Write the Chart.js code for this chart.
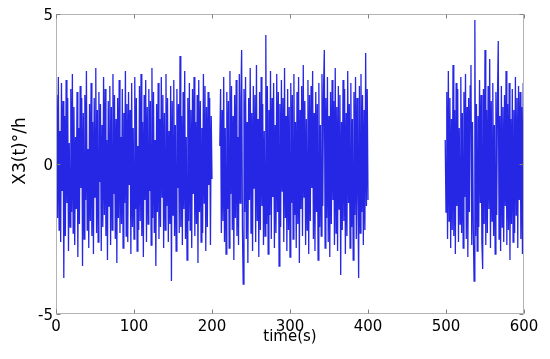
<!DOCTYPE html>
<html><head><meta charset="utf-8">
<script src="https://cdn.jsdelivr.net/npm/chart.js@4"></script>
<style>html,body{margin:0;padding:0;background:#fff}#wrap{width:550px;height:359px;position:relative}</style>
</head><body><div id="wrap"><canvas id="c"></canvas></div>
<script>
// ---- data (1 s sampling) ----
const segmentStarts = [0, 210, 499];
const sampleStep = 1;
const seg1 = [
 0.4, 2.3,-1.8, 2.9,-2.2, 1.1,-2.6, 2.7,-0.9, 2.1,
-3.8, 1.6,-2.4, 2.8,-1.3, 2.2,-2.9, 0.7,-2.1, 2.5,
-1.6, 3.0,-2.3, 1.9,-2.7, 0.9,-1.5, 2.4,-3.1, 1.2,
-2.0, 2.6,-0.8, 2.2,-3.4, 1.7,-2.5, 2.3,-1.2, 3.1,
-2.2, 0.5,-2.8, 2.0,-1.9, 2.7,-2.4, 1.4,-3.0, 2.2,
-1.1, 3.2,-2.3, 1.8,-2.6, 2.4,-0.6, 2.0,-2.9, 1.3,
-2.1, 2.9,-1.7, 2.5,-2.4, 0.8,-3.2, 2.1,-1.4, 2.6,
-2.7, 1.9,-2.2, 3.0,-1.0, 2.3,-2.5, 1.5,-3.3, 2.2,
-1.8, 2.8,-2.3, 0.9,-2.0, 2.5,-2.8, 1.7,-1.3, 3.1,
-2.4, 2.0,-2.6, 2.4,-0.7, 1.8,-3.0, 2.7,-2.1, 1.2,
-2.5, 2.9,-1.5, 2.2,-2.9, 0.6,-2.2, 2.6,-1.9, 3.0,
-2.4, 1.4,-3.1, 2.3,-1.2, 2.8,-2.6, 1.9,-2.0, 2.5,
-0.9, 2.1,-2.7, 3.2,-1.8, 2.4,-2.3, 0.8,-3.4, 2.0,
-1.6, 2.7,-2.5, 1.5,-2.1, 2.9,-1.1, 2.3,-2.8, 1.7,
-2.2, 3.0,-1.4, 2.2,-2.6, 1.1,-2.0, 2.6,-3.9, 2.1,
-1.7, 2.8,-2.4, 1.3,-2.9, 2.5,-0.8, 2.0,-2.3, 3.6,
-2.1, 1.6,-2.7, 2.4,-1.5, 3.1,-2.5, 0.9,-3.2, 2.2,
-1.9, 2.7,-2.2, 1.8,-2.8, 2.5,-1.0, 2.9,-2.4, 1.4,
-2.0, 2.3,-3.3, 2.8,-1.6, 2.1,-2.6, 1.2,-2.3, 3.0,
-1.3, 2.6,-2.9, 1.9,-2.1, 2.4,-0.7, 2.2,-2.7, 1.6,
-0.5];
const seg2 = [
 0.6, 2.5,-2.3, 1.8,-1.9, 2.9,-2.6, 1.2,-3.0, 2.4,
-1.5, 2.1,-2.8, 3.1,-1.0, 2.6,-2.2, 1.6,-3.2, 2.3,
-1.8, 2.8,-2.4, 0.9,-2.7, 3.0,-1.3, 2.2, 3.8,-2.1,
-4.0, 2.5,-1.6, 2.9,-2.5, 1.4,-3.3, 2.2,-1.2, 3.2,
-2.3, 1.7,-2.9, 2.6,-0.8, 2.3,-2.6, 3.3,-1.9, 1.5,
-3.1, 2.4,-2.2, 2.9,-1.4, 2.0,-2.7, 1.1,-2.4, 4.3,
-2.0, 2.6,-3.0, 1.8,-1.7, 3.1,-2.5, 2.2,-1.1, 2.7,
-2.8, 1.3,-2.3, 3.0,-1.6, 2.4,-3.4, 2.0,-2.1, 2.8,
-0.9, 2.2,-2.6, 3.2,-1.8, 1.6,-2.9, 2.5,-2.2, 1.9,
-3.1, 2.7,-1.3, 2.3,-2.5, 3.0,-1.7, 1.4,-2.8, 2.4,
-2.0, 2.9,-3.3, 1.8,-1.5, 2.6,-2.4, 3.3,-1.1, 2.1,
-2.7, 1.5,-2.2, 2.8,-3.0, 2.3,-1.9, 2.6,-0.8, 3.1,
-2.5, 1.7,-2.9, 2.4,-1.6, 2.0,-3.2, 2.7,-2.1, 1.3,
-2.4, 3.0,-1.4, 2.5, 3.8,-2.8, 2.2,-1.8, 2.9,-2.6,
 1.6,-3.1, 2.4,-2.0, 2.8,-1.2, 2.1,-2.7, 3.2,-2.3,
 1.9,-2.9, 2.6,-1.5, 2.3,-3.7, 1.4,-2.2, 2.8,-1.9,
 2.5,-3.0, 1.7,-2.4, 3.1,-1.3, 2.0,-2.8, 2.7,-2.1,
 1.5,-3.2, 2.4,-1.7, 2.9,-2.5, 2.2,-1.0,-3.8, 2.6,
-2.3, 3.0,-1.6, 2.3,-2.7, 1.8,-2.2, 3.7,-1.4, 2.5,
-1.2];
const seg3 = [
 0.8,-1.6, 2.4,-2.5, 3.1,-1.9, 2.2,-2.8, 1.5,-2.2,
 3.3,-2.4, 1.8,-3.0, 2.7,-1.4, 2.5,-2.6, 1.2,-2.0,
 2.9,-2.3, 1.7,-2.8, 2.4,-1.1, 3.0,-2.5, 1.9,-3.1,
 2.2,-1.6, 2.6, 3.3,-2.7, 1.4,-2.2,-3.9, 4.8,-2.4,
 2.0,-2.9, 1.6,-2.1, 2.8,-1.3, 2.3,-2.6,-3.5, 2.5,
-2.0, 3.8,-2.7, 1.8,-2.3, 2.6,-1.5, 3.5,-2.8, 2.1,
-1.9, 2.7,-2.4, 1.3,-3.0, 2.4,-1.7, 2.2, 4.1,-2.5,
 1.6,-2.9, 2.6,-2.1, 1.9,-2.6, 2.3,-1.4, 3.1,-2.7,
 2.0,-2.2, 2.7,-3.2, 1.5,-2.0, 2.5,-2.6, 1.8,-2.3,
 2.9,-1.7, 2.2,-2.8, 2.6,-1.2, 2.4,-2.5, 1.9,-3.0,
 2.7,-2.2];
const xTicks = [0, 100, 200, 300, 400, 500, 600];
const yTicks = [-5, 0, 5];
const xTitle = 'time(s)';
const yTitle = 'X3(t)°/h';

// ---- build points (gaps between segments) ----
const segments = [seg1, seg2, seg3];
const points = [];
segments.forEach((s, k) => {
  if (k > 0) points.push({x: segmentStarts[k] - 1, y: null});
  s.forEach((v, i) => points.push({x: segmentStarts[k] + i * sampleStep, y: v}));
});

const FONT = '"DejaVu Sans", Verdana, sans-serif';

const framePlugin = {
  id: 'frame',
  afterDatasetsDraw(chart) {
    const {ctx, chartArea: a, scales: {x, y}} = chart;
    ctx.save();
    ctx.strokeStyle = '#b4b4b4';
    ctx.lineWidth = 1;
    const L = Math.round(a.left) + 0.5, R = Math.round(a.right) - 0.5,
          T = Math.round(a.top) + 0.5, B = Math.round(a.bottom) - 0.5;
    ctx.strokeRect(L, T, R - L, B - T);
    ctx.strokeStyle = '#808080';
    ctx.beginPath();
    xTicks.forEach(v => {
      const px = Math.round(x.getPixelForValue(v)) + 0.5;
      ctx.moveTo(px, B); ctx.lineTo(px, B - 4);
      ctx.moveTo(px, T); ctx.lineTo(px, T + 4);
    });
    yTicks.forEach(v => {
      const py = Math.round(y.getPixelForValue(v)) + 0.5;
      ctx.moveTo(L, py); ctx.lineTo(L + 4, py);
      ctx.moveTo(R, py); ctx.lineTo(R - 4, py);
    });
    ctx.stroke();
    // tick labels (positions from the library's scales)
    ctx.fillStyle = '#000';
    ctx.font = '15px ' + FONT;
    ctx.textBaseline = 'alphabetic';
    ctx.textAlign = 'center';
    xTicks.forEach(v => ctx.fillText(String(v), x.getPixelForValue(v), a.bottom + 17));
    ctx.textAlign = 'right';
    yTicks.forEach(v => ctx.fillText(String(v), a.left - 3, y.getPixelForValue(v) + 6));
    // axis titles
    ctx.textAlign = 'center';
    ctx.textBaseline = 'middle';
    ctx.fillText(xTitle, (a.left + a.right) / 2, 337);
    ctx.font = '17px ' + FONT;
    ctx.translate(21, 151);
    ctx.rotate(-Math.PI / 2);
    ctx.fillText(yTitle, 0, 0);
    ctx.restore();
  }
};

new Chart(document.getElementById('c'), {
  type: 'line',
  data: {
    datasets: [{
      data: points,
      borderColor: 'rgba(0,0,225,0.85)',
      borderWidth: 1.3,
      pointRadius: 0,
      tension: 0,
      spanGaps: false,
      fill: false
    }]
  },
  options: {
    responsive: true,
    maintainAspectRatio: false,
    animation: false,
    devicePixelRatio: 1,
    layout: {padding: {top: 14, right: 26, left: 56, bottom: 45}},
    plugins: {legend: {display: false}, tooltip: {enabled: false}},
    scales: {
      x: {
        type: 'linear', min: 0, max: 600, display: false,
        afterBuildTicks: s => { s.ticks = xTicks.map(v => ({value: v})); }
      },
      y: {
        type: 'linear', min: -5, max: 5, display: false,
        afterBuildTicks: s => { s.ticks = yTicks.map(v => ({value: v})); }
      }
    }
  },
  plugins: [framePlugin]
});
</script>
</body></html>
